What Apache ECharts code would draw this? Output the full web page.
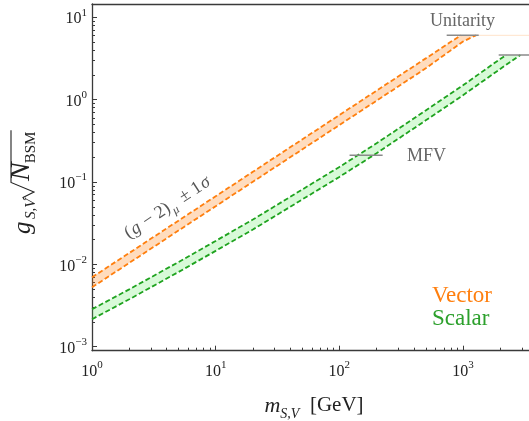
<!DOCTYPE html>
<html><head><meta charset="utf-8">
<script src="https://cdn.jsdelivr.net/npm/echarts@6/dist/echarts.min.js"></script>
<style>html,body{margin:0;padding:0;background:#fff}#c{width:529px;height:421px}</style>
</head><body><div id="c"></div>
<script>
// ---- data ----
const xTickExps = [0, 1, 2, 3];
const yTickExps = [-3, -2, -1, 0, 1];
const xRange = [1, 3418];
const yRange = [0.000894, 14.5];

const vecUpperM = [1, 2, 5, 10, 20, 50, 100, 200, 500, 960];
const vecUpperG = [0.00695, 0.01374, 0.0339, 0.0671, 0.133, 0.328, 0.649, 1.285, 3.17, 6.04];
const vecLowerM = [1, 2, 5, 10, 20, 50, 100, 200, 500, 1000, 1273];
const vecLowerG = [0.00526, 0.0104, 0.0257, 0.0508, 0.1007, 0.248, 0.491, 0.971, 2.40, 5.08, 6.04];
const vecFlatM = [1273, 3418];
const vecFlatG = [6.04, 6.04];

const scaUpperM = [1, 2, 5, 10, 20, 50, 100, 200, 500, 1000, 2000, 2240];
const scaUpperG = [0.002847, 0.00497, 0.01065, 0.01925, 0.03495, 0.0808, 0.1522, 0.2948, 0.7405, 1.494, 3.115, 3.49];
const scaLowerM = [1, 2, 5, 10, 20, 50, 100, 200, 500, 1000, 2000, 2910];
const scaLowerG = [0.002155, 0.003763, 0.008063, 0.01457, 0.02645, 0.0612, 0.1152, 0.2231, 0.5605, 1.131, 2.358, 3.49];

const unitVecM = [738, 1340];  const unitVecG = 6.04;
const unitScaM = [1944, 3418]; const unitScaG = 3.49;
const mfvM = [121, 224];       const mfvG = 0.211;

// ---- helpers ----
const L = Math.log10;
const pts = (ms, gs) => ms.map((m, i) => [L(m), L(gs[i])]);
const XMIN = L(xRange[0]), XMAX = L(xRange[1]);
const YMIN = L(yRange[0]), YMAX = L(yRange[1]);

const xMinor = [], yMinor = [];
for (let d = 0; d <= 3; d++) for (let k = 2; k <= 9; k++) { const v = L(k * Math.pow(10, d)); if (v <= XMAX) xMinor.push(v); }
for (let d = -4; d <= 1; d++) for (let k = 2; k <= 9; k++) { const v = L(k * Math.pow(10, d)); if (v >= YMIN && v <= YMAX) yMinor.push(v); }

const AX = '#3a3a3a';
const FONT = 'Liberation Serif';
const OR = '#ff7f0e', GR = '#1fa31f';
const supTxt = v => { v = Math.round(v); return v < 0 ? '\u2212' + (-v) : String(v); };
const tickFmt = v => '{b|10}{s|' + supTxt(v) + '}';
const richTick = {
  b: { fontFamily: FONT, fontSize: 16, lineHeight: 20, color: '#222', verticalAlign: 'bottom' },
  s: { fontFamily: FONT, fontSize: 11, lineHeight: 12, color: '#222', verticalAlign: 'top' }
};

function band(upper, lower, color) {
  const poly = upper.concat(lower.slice().reverse());
  return {
    type: 'custom', xAxisIndex: 0, yAxisIndex: 0, data: [[0, 0]], silent: true, z: 1,
    renderItem: (params, api) => ({
      type: 'polygon', shape: { points: poly.map(p => api.coord(p)) }, style: { fill: color }
    })
  };
}
function dashed(data, color) {
  return { type: 'line', xAxisIndex: 0, yAxisIndex: 0, data, symbol: 'none', z: 3, silent: true,
    lineStyle: { color, width: 1.8, type: [5, 2.6] } };
}
function seg(ms, g, color, w) {
  return { type: 'line', xAxisIndex: 0, yAxisIndex: 0, data: ms.map(m => [L(m), L(g)]), symbol: 'none', z: 4, silent: true,
    lineStyle: { color, width: w } };
}

const vU = pts(vecUpperM, vecUpperG), vL = pts(vecLowerM, vecLowerG);
const sU = pts(scaUpperM, scaUpperG), sL = pts(scaLowerM, scaLowerG);

// text measurement for the y title
const cx = document.createElement('canvas').getContext('2d');
const tw = (t, f) => { cx.font = f; return cx.measureText(t).width; };
const fG = 'italic 25px "' + FONT + '"', fN = 'italic 28px "' + FONT + '"';
const fSubI = 'italic 15px "' + FONT + '"', fSub = '15px "' + FONT + '"';
const nX = 53, nW = tw('N', fN);
const bsmX = nX + nW - 1, bsmW = tw('BSM', fSub);
const ovEnd = bsmX + bsmW + 1.5;

const gridRect = { left: 92, top: 4, width: 437, height: 346.7 };
const option = {
  animation: false,
  grid: [Object.assign({}, gridRect), Object.assign({}, gridRect)],
  xAxis: [
    { gridIndex: 0, type: 'value', min: XMIN, max: XMAX, position: 'bottom',
      axisLine: { show: true, onZero: false, lineStyle: { color: AX, width: 1.3 } },
      axisTick: { show: true, inside: true, length: 5, customValues: xTickExps, lineStyle: { color: AX, width: 1 } },
      axisLabel: { show: true, customValues: xTickExps, formatter: tickFmt, rich: richTick, margin: 9 },
      splitLine: { show: false } },
    { gridIndex: 0, type: 'value', min: XMIN, max: XMAX, position: 'top',
      axisLine: { show: true, onZero: false, lineStyle: { color: AX, width: 1.3 } },
      axisTick: { show: false }, axisLabel: { show: false }, splitLine: { show: false } },
    { gridIndex: 1, type: 'value', min: XMIN, max: XMAX, position: 'bottom',
      axisLine: { show: false, onZero: false },
      axisTick: { show: true, inside: true, length: 3, customValues: xMinor, lineStyle: { color: AX, width: 1 } },
      axisLabel: { show: false }, splitLine: { show: false } }
  ],
  yAxis: [
    { gridIndex: 0, type: 'value', min: YMIN, max: YMAX, position: 'left',
      axisLine: { show: true, onZero: false, lineStyle: { color: AX, width: 1.3 } },
      axisTick: { show: true, inside: true, length: 5, customValues: yTickExps, lineStyle: { color: AX, width: 1 } },
      axisLabel: { show: true, customValues: yTickExps, formatter: tickFmt, rich: richTick, margin: 5 },
      splitLine: { show: false } },
    { gridIndex: 1, type: 'value', min: YMIN, max: YMAX, position: 'left',
      axisLine: { show: false, onZero: false },
      axisTick: { show: true, inside: true, length: 3, customValues: yMinor, lineStyle: { color: AX, width: 1 } },
      axisLabel: { show: false }, splitLine: { show: false } }
  ],
  series: [
    band(vU, vL, 'rgba(255,127,14,0.27)'),
    band(sU, sL, 'rgba(60,230,60,0.2)'),
    { type: 'line', xAxisIndex: 0, yAxisIndex: 0, data: pts(vecFlatM, vecFlatG), symbol: 'none', z: 2, silent: true,
      lineStyle: { color: 'rgba(255,127,14,0.22)', width: 1 } },
    dashed(vU, OR), dashed(vL, OR),
    dashed(sU, GR), dashed(sL, GR),
    seg(unitVecM, unitVecG, '#8a8a8a', 1.6),
    seg(unitScaM, unitScaG, '#8a8a8a', 1.6),
    seg(mfvM, mfvG, '#8a8a8a', 1.6),
    // empty series so the minor-tick axes of grid 1 are laid out
    { type: 'line', xAxisIndex: 2, yAxisIndex: 1, data: [], symbol: 'none', silent: true }
  ],
  graphic: [
    { type: 'text', x: 462.5, y: 21, z: 10, style: { text: 'Unitarity', font: '18px "' + FONT + '"', fill: '#666', align: 'center', verticalAlign: 'middle' } },
    { type: 'text', x: 407, y: 156.5, z: 10, style: { text: 'MFV', font: '18px "' + FONT + '"', fill: '#666', align: 'left', verticalAlign: 'middle' } },
    { type: 'text', x: 432, y: 296, z: 10, style: { text: 'Vector', font: '23px "' + FONT + '"', fill: OR, align: 'left', verticalAlign: 'middle' } },
    { type: 'text', x: 432, y: 319, z: 10, style: { text: 'Scalar', font: '23px "' + FONT + '"', fill: '#2ca02c', align: 'left', verticalAlign: 'middle' } },
    { type: 'text', x: 169, y: 209, rotation: 33.5 * Math.PI / 180, z: 10,
      style: { text: '{r|(}{i|g}{r| \u2212 2)}{sub|\u03bc}{r| \u00b1 1}{i|\u03c3}', align: 'center', verticalAlign: 'middle',
        rich: {
          r: { fontFamily: FONT, fontSize: 18, lineHeight: 22, fill: '#555', color: '#555', verticalAlign: 'top' },
          i: { fontFamily: FONT, fontStyle: 'italic', fontSize: 18, lineHeight: 22, fill: '#555', color: '#555', verticalAlign: 'top', padding: [0, 1, 0, 1] },
          sub: { fontFamily: FONT, fontStyle: 'italic', fontSize: 12, lineHeight: 13, fill: '#555', color: '#555', verticalAlign: 'bottom', padding: [0, 3, 0, 1] }
        } } },
    // x axis title
    { type: 'text', x: 314, y: 408, z: 10,
      style: { text: '{m|m}{sub|S,V}{r|  [GeV]}', align: 'center', verticalAlign: 'middle',
        rich: {
          m: { fontFamily: FONT, fontStyle: 'italic', fontSize: 22, lineHeight: 26, fill: '#222', color: '#222', verticalAlign: 'top' },
          sub: { fontFamily: FONT, fontStyle: 'italic', fontSize: 14, lineHeight: 16, fill: '#222', color: '#222', verticalAlign: 'bottom' },
          r: { fontFamily: FONT, fontSize: 21, lineHeight: 26, fill: '#222', color: '#222', verticalAlign: 'top' }
        } } },
    // y axis title (rotated group)
    { type: 'group', x: 31.5, y: 234, rotation: Math.PI / 2, z: 10, children: [
      { type: 'text', x: 0, y: -8.4, style: { text: 'g', font: fG, fill: '#222', align: 'left', verticalAlign: 'middle' } },
      { type: 'text', x: 15, y: -0.5, style: { text: 'S,V', font: fSubI, fill: '#222', align: 'left', verticalAlign: 'middle' } },
      { type: 'polyline', shape: { points: [[34, -7], [36.5, -8.5], [42, 2.5], [51.5, -20.5], [ovEnd, -20.5]] },
        style: { stroke: '#222', lineWidth: 1.1, fill: null } },
      { type: 'text', x: nX, y: -9.4, style: { text: 'N', font: fN, fill: '#222', align: 'left', verticalAlign: 'middle' } },
      { type: 'text', x: bsmX, y: -0.5, style: { text: 'BSM', font: fSub, fill: '#222', align: 'left', verticalAlign: 'middle' } }
    ] }
  ]
};
const chart = echarts.init(document.getElementById('c'), null, { renderer: 'canvas' });
chart.setOption(option);
</script></body></html>
